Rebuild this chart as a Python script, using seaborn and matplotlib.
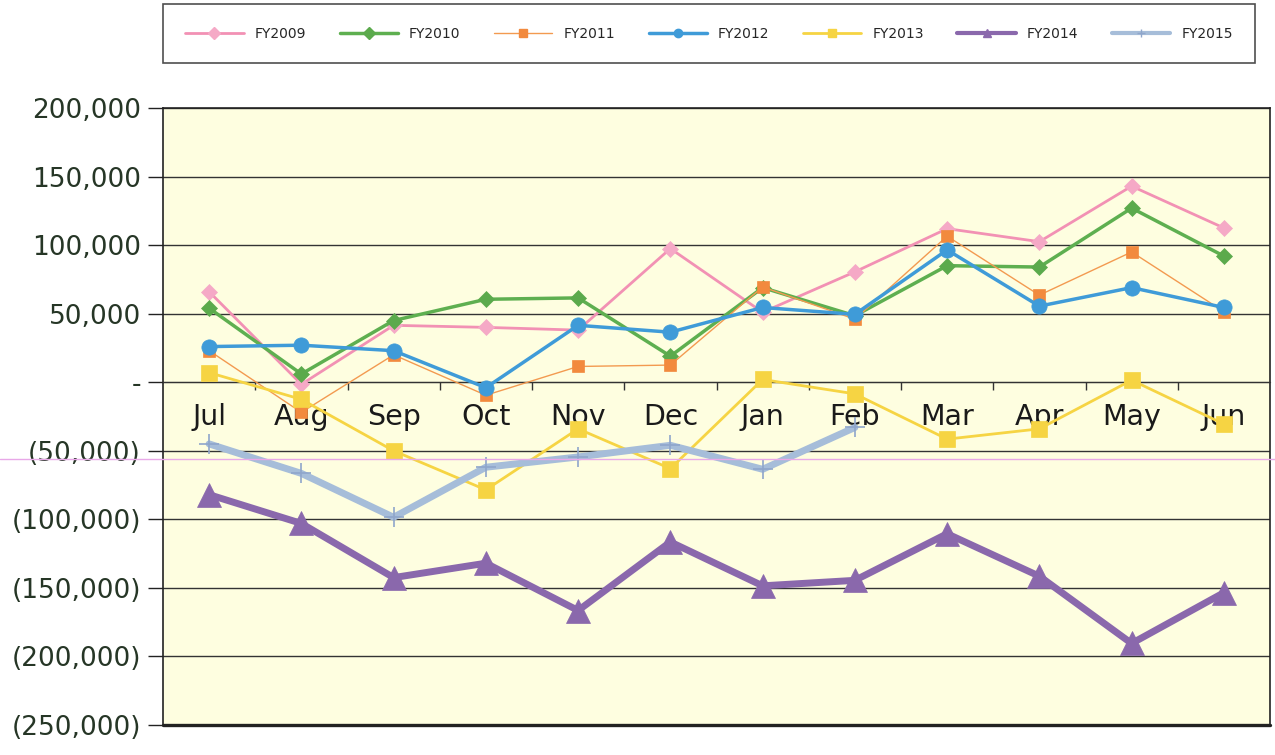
import numpy as np
import pandas as pd
import matplotlib
matplotlib.use("Agg")
import matplotlib.pyplot as plt
from matplotlib.lines import Line2D
from matplotlib.ticker import FuncFormatter, FixedLocator
import seaborn as sns

# monthly values
months = ["Jul", "Aug", "Sep", "Oct", "Nov", "Dec", "Jan", "Feb", "Mar", "Apr", "May", "Jun"]
fy2009 = [66000, -1500, 41500, 40000, 38000, 97500, 51000, 80500, 112000, 102500, 143000, 112500]
fy2010 = [54000, 6000, 45000, 60500, 61500, 19000, 69000, 48500, 85000, 84000, 127000, 92000]
fy2011 = [23000, -22000, 20000, -9500, 11500, 12500, 69500, 46000, 106500, 63500, 95000, 51500]
fy2012 = [26000, 27000, 23000, -4000, 41500, 36500, 54500, 49500, 96500, 55500, 69000, 54500]
fy2013 = [7000, -12500, -50000, -78500, -34000, -63000, 2000, -8500, -41500, -34000, 1500, -30500]
fy2014 = [-82000, -103000, -142500, -132000, -166500, -116500, -148500, -144500, -110500, -141500, -190500, -153500]
fy2015 = [-45000, -66500, -98500, -62000, -54500, -46000, -63500, -33000]

series = [
    ("FY2009", fy2009, dict(color="#F291B4", lw=2, marker="D", ms=8, mfc="#F5A9C6", mec="#F5A9C6", zorder=3)),
    ("FY2010", fy2010, dict(color="#5EAF50", lw=2.5, marker="D", ms=8, mfc="#5BAA4C", mec="#5BAA4C", zorder=3)),
    ("FY2011", fy2011, dict(color="#F39A50", lw=1, marker="s", ms=9, mfc="#F28A3E", mec="#F28A3E", zorder=3)),
    ("FY2012", fy2012, dict(color="#3F9BD8", lw=2.5, marker="o", ms=11, mfc="#3F9BD8", mec="#3F9BD8", zorder=4)),
    ("FY2013", fy2013, dict(color="#F6D443", lw=2, marker="s", ms=11, mfc="#F6D443", mec="#F6D443", zorder=3)),
    ("FY2014", fy2014, dict(color="#8A68AC", lw=5, marker="^", ms=17, mfc="#8A68AC", mec="#8A68AC", zorder=3)),
    ("FY2015", fy2015, dict(color="#A6BDD9", lw=5, marker="+", ms=15, mfc="#8FA6CB", mec="#8FA6CB", mew=1.2, zorder=3)),
]

sns.set_style("white")
plt.rcParams["font.family"] = ["DejaVu Sans"]

fig = plt.figure(figsize=(12.75, 7.55), dpi=100)
ax = fig.add_axes([163 / 1275, 1 - 725 / 755, 1107 / 1275, 617 / 755])
ax.set_facecolor("#FEFEE0")

for name, vals, st in series:
    x = np.arange(len(vals))
    sns.lineplot(x=x, y=vals, ax=ax, label=name, color=st["color"], linewidth=st["lw"],
                 marker=st["marker"], markersize=st["ms"], markerfacecolor=st["mfc"],
                 markeredgecolor=st["mec"], markeredgewidth=st.get("mew", 0.5),
                 zorder=st["zorder"], legend=False)

ax.set_xlim(-0.5, 11.5)
ax.set_ylim(-250000, 200000)
ax.yaxis.set_major_locator(FixedLocator(np.arange(-250000, 200001, 50000)))


def fmt(v, pos):
    if v == 0:
        return "-"
    if v < 0:
        return "({:,.0f})".format(-v)
    return "{:,.0f}".format(v)


ax.yaxis.set_major_formatter(FuncFormatter(fmt))
ax.grid(axis="y", color="#333333", lw=1, zorder=1)
ax.set_axisbelow(True)
ax.tick_params(axis="y", direction="out", length=11, width=1, colors="#222222",
               labelsize=19, labelcolor="#263626", pad=5, left=True)

# category axis crosses at zero
ax.spines["bottom"].set_position(("data", 0))
ax.spines["bottom"].set_color("#333333")
for s in ["left", "right", "top"]:
    ax.spines[s].set_color("#222222")
    ax.spines[s].set_linewidth(1.2)
# bottom border of the plot area
ax.axhline(-250000, color="#222222", lw=2.4, clip_on=False, zorder=5)
ax.set_xticks(np.arange(12))
ax.set_xticklabels(months)
ax.set_xticks(np.arange(0.5, 11.5, 1), minor=True)
ax.tick_params(axis="x", which="major", length=0, labelsize=20.5, pad=15, labelcolor="#1a1a1a")
ax.tick_params(axis="x", which="minor", direction="out", length=6, width=1, color="#333333", bottom=True)
ax.set_xlabel("")
ax.set_ylabel("")

handles = [Line2D([], [], color=st["color"], lw=min(st["lw"], 3), marker=st["marker"],
                  ms=6, mfc=st["mfc"], mec=st["mec"]) for _, _, st in series]
labels = [s[0] for s in series]
leg = fig.legend(handles, labels, loc="center", ncol=7, mode="expand",
                 bbox_to_anchor=(163 / 1275, 1 - 62 / 755, 1092 / 1275, 57 / 755),
                 frameon=True, fancybox=False, edgecolor="#222222", fontsize=10,
                 handlelength=4.2, borderaxespad=0, borderpad=1.6)
leg.get_frame().set_linewidth(1.2)

# faint pink scan line across the page
fig.add_artist(Line2D([0, 1], [1 - 459 / 755] * 2, transform=fig.transFigure,
                      color="#E8A8E8", lw=1, zorder=10))

fig.savefig("out.png", dpi=100, facecolor="white")
